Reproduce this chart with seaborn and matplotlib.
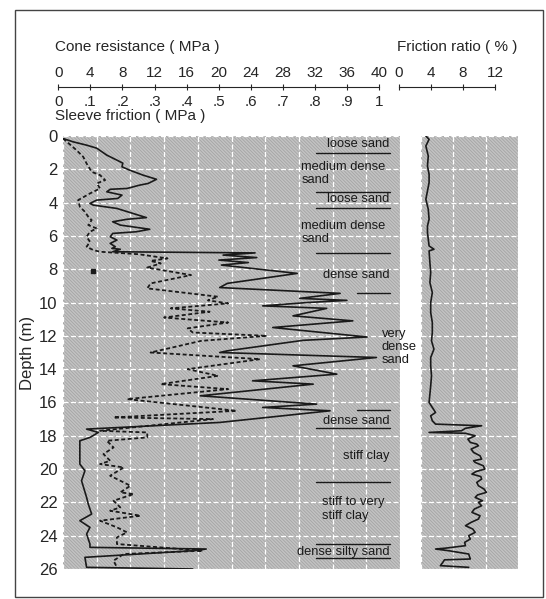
import numpy as np
import pandas as pd
import seaborn as sns
import matplotlib.pyplot as plt
from matplotlib.patches import Rectangle

# cone resistance (MPa) vs depth (m)
qc_depth = [0.15, 0.35, 0.55, 0.73, 1.15, 1.45, 1.63, 1.85, 2.05, 2.35, 2.6, 2.85, 2.95, 3.15, 3.2,
            3.35, 3.55, 3.75, 3.85, 4.05, 4.15, 4.35, 4.65, 4.9, 5.0, 5.15, 5.35, 5.6, 5.75, 5.85,
            6.05, 6.25, 6.45, 6.65, 6.75, 6.8, 6.95, 7.02, 7.15, 7.3, 7.45, 7.6, 7.75, 8.25, 8.85,
            9.1, 9.45, 9.75, 9.87, 10.0, 10.2, 10.35, 10.8, 11.1, 11.5, 12.07, 12.27, 12.9, 13.0,
            13.3, 13.8, 14.3, 14.7, 14.9, 15.6, 16.1, 16.3, 16.5, 17.2, 17.6, 17.8, 18.1, 18.3,
            19.7, 20.1, 20.7, 21.7, 22.1, 22.7, 23.1, 23.5, 23.9, 24.5, 24.7, 24.8, 24.9, 25.3,
            25.9, 26.0]
qc = [0.0, 1.2, 2.8, 4.0, 5.2, 6.4, 7.1, 7.0, 7.9, 9.5, 11.1, 10.1, 9.1, 7.6, 5.6,
      5.2, 7.0, 6.5, 4.0, 3.2, 3.6, 6.4, 8.3, 9.9, 7.6, 5.9, 6.8, 10.3, 8.7, 5.9,
      5.6, 6.4, 5.6, 6.2, 5.8, 6.8, 5.9, 22.8, 19.0, 23.0, 18.5, 22.0, 18.8, 27.8, 19.5,
      18.6, 32.9, 28.1, 33.7, 29.0, 23.7, 31.3, 27.3, 34.4, 24.9, 36.1, 28.5, 19.5, 18.6,
      37.2, 27.3, 32.5, 22.5, 29.7, 16.3, 30.1, 23.7, 31.7, 18.6, 2.8, 4.2, 3.2, 2.0,
      2.0, 2.6, 2.2, 2.8, 3.0, 3.4, 2.0, 3.2, 2.8, 3.2, 3.2, 17.0, 15.5, 2.6,
      2.8, 15.4]

# sleeve friction (MPa) vs depth (m)
fs_depth = [0.15, 0.85, 1.25, 1.65, 2.15, 2.35, 2.65, 2.85, 3.15, 3.45, 3.85, 4.25, 4.55, 4.85,
            5.05, 5.35, 5.55, 5.75, 6.05, 6.35, 6.65, 6.85, 6.95, 7.1, 7.35, 7.5, 7.65, 7.9,
            8.35, 8.85, 9.15, 9.65, 9.87, 10.05, 10.35, 10.55, 10.9, 11.2, 11.55, 11.8, 12.0,
            12.3, 13.0, 13.4, 14.0, 14.4, 14.9, 15.2, 15.8, 16.5, 16.9, 17.0, 17.7, 17.8, 18.1,
            18.3, 18.7, 19.1, 19.5, 19.7, 19.9, 20.4, 21.0, 21.4, 21.5, 21.9, 22.3, 22.5, 22.8,
            23.1, 23.5, 23.8, 24.1, 24.5, 24.9, 25.1, 25.5, 25.9]
fs = [0.0, 0.04, 0.06, 0.07, 0.085, 0.11, 0.125, 0.10, 0.11, 0.08, 0.045, 0.05, 0.065, 0.075,
      0.085, 0.075, 0.10, 0.08, 0.07, 0.08, 0.07, 0.09, 0.11, 0.225, 0.31, 0.26, 0.29, 0.25,
      0.38, 0.26, 0.25, 0.46, 0.43, 0.49, 0.32, 0.435, 0.30, 0.49, 0.37, 0.385, 0.605,
      0.41, 0.26, 0.585, 0.37, 0.46, 0.29, 0.49, 0.19, 0.515, 0.15, 0.445, 0.11, 0.25, 0.25,
      0.13, 0.15, 0.12, 0.14, 0.11, 0.18, 0.14, 0.20, 0.17, 0.21, 0.15, 0.17, 0.14, 0.23,
      0.11, 0.16, 0.19, 0.16, 0.16, 0.415, 0.18, 0.15, 0.16]
stray_depth = [8.1]
stray_fs = [0.09]

# friction ratio (%) vs depth (m)
rf_depth = [0.0, 0.2, 0.6, 1.2, 1.8, 2.3, 2.8, 3.3, 3.8, 4.4, 5.0, 5.4, 5.8, 6.6, 6.8, 6.9,
            7.6, 8.2, 8.8, 9.4, 10.0, 10.6, 11.2, 11.8, 12.3, 12.8, 13.3, 13.8, 14.4, 15.0,
            15.5, 16.0, 16.6, 16.8, 17.1, 17.3, 17.4, 17.55, 17.7, 17.8, 17.85, 18.0, 18.2,
            18.4, 18.5, 18.6, 18.8, 19.0, 19.2, 19.4, 19.5, 19.6, 19.8, 20.0, 20.15, 20.3,
            20.45, 20.6, 20.8, 21.0, 21.2, 21.4, 21.55, 21.7, 21.9, 22.0, 22.2, 22.4, 22.6,
            22.8, 23.0, 23.2, 23.4, 23.6, 23.8, 24.0, 24.2, 24.4, 24.6, 24.75, 24.8, 24.9,
            25.1, 25.4, 25.45, 25.6, 25.8, 25.9]
rf = [0.6, 1.0, 0.6, 0.9, 0.8, 1.0, 1.0, 0.8, 0.6, 0.9, 1.0, 0.8, 0.8, 1.0, 1.6, 1.0,
      1.1, 1.2, 1.1, 1.4, 1.2, 1.2, 1.4, 1.4, 1.3, 1.6, 1.2, 1.2, 1.3, 1.2,
      1.1, 1.0, 1.8, 1.2, 1.4, 1.8, 7.5, 5.5, 5.0, 1.0, 5.5, 6.7, 5.8,
      6.1, 6.9, 7.1, 6.2, 6.5, 7.3, 7.5, 6.5, 6.7, 7.7, 7.9, 6.8, 6.3,
      7.4, 7.5, 6.9, 7.1, 7.8, 8.1, 7.0, 6.7, 7.6, 7.1, 7.5, 6.6, 6.3,
      7.3, 7.1, 6.2, 5.5, 6.4, 6.7, 5.9, 6.1, 5.4, 5.5, 3.0, 1.8, 3.4,
      5.9, 6.1, 2.9, 2.7, 2.4, 5.9]

# soil layers
layer_bounds = [1.0, 3.35, 4.33, 7.02, 9.45, 16.45, 17.55, 20.75, 24.47, 25.33]
short_bounds = [9.45, 16.45]
layer_names = ["loose sand", "medium dense\nsand", "loose sand", "medium dense\nsand",
               "dense sand", "very\ndense\nsand", "dense sand", "stiff clay",
               "stiff to very\nstiff clay", "dense silty sand"]
layer_label_depth = [0.48, 2.25, 3.8, 5.8, 8.36, 12.65, 17.1, 19.2, 22.4, 24.97]

sns.set_style("white")
plt.rcParams['font.family'] = ['Liberation Sans', 'DejaVu Sans']
plt.rcParams['hatch.linewidth'] = 0.6

W, H = 546, 599
fig = plt.figure(figsize=(W / 100, H / 100), dpi=100)


def box(x0, y0, x1, y1):
    return [x0 / W, 1 - y1 / H, (x1 - x0) / W, (y1 - y0) / H]


ax = fig.add_axes(box(63, 136, 400, 569))
ax2 = fig.add_axes(box(421, 136, 518, 569))

for a, xmax in [(ax, 40), (ax2, 12)]:
    a.set_facecolor('#c3c3c3')
    a.add_patch(Rectangle((0, 0), 1, 1, transform=a.transAxes, facecolor='none',
                          edgecolor='#a4a4a4', hatch='\\' * 10, lw=0, zorder=0))
    a.set_xlim(0, xmax)
    a.set_ylim(26, 0)
    a.set_xticks(np.arange(0, xmax + 1, 4))
    a.set_yticks(np.arange(0, 27, 2))
    a.grid(True, color='white', ls=(0, (4, 2)), lw=0.9)
    a.set_axisbelow(True)
    for s in a.spines.values():
        s.set_visible(False)
    a.tick_params(length=0, labelbottom=False)

qc_df = pd.DataFrame({'depth': qc_depth, 'qc': qc})
fs_df = pd.DataFrame({'depth': fs_depth, 'fs_scaled': np.array(fs) * 40})
rf_df = pd.DataFrame({'depth': rf_depth, 'rf': rf})

sns.lineplot(data=qc_df, x='qc', y='depth', sort=False, estimator=None, orient='y',
             color='#1a1a1a', lw=1.2, ax=ax)
sns.lineplot(data=fs_df, x='fs_scaled', y='depth', sort=False, estimator=None, orient='y',
             color='#1a1a1a', lw=1.3, ls=(0, (2.2, 1.4)), ax=ax)
ax.plot(np.array(stray_fs) * 40, stray_depth, 's', color='#1a1a1a', ms=2.5)
sns.lineplot(data=rf_df, x='rf', y='depth', sort=False, estimator=None, orient='y',
             color='#1a1a1a', lw=1.2, ax=ax2)

ax.set_xlabel('')
ax2.set_xlabel('')
ax2.set_ylabel('')
ax2.tick_params(labelleft=False)
ax.tick_params(axis='y', labelsize=12, pad=4)
ax.set_ylabel('Depth (m)', fontsize=12, labelpad=3)

# layer boundaries and names
for b in layer_bounds:
    x0 = 34.9 if b in short_bounds else 30.0
    ax.plot([x0, 38.8], [b, b], color='#1a1a1a', lw=1.0)
lab_fs = 9.3
for name, d in zip(layer_names, layer_label_depth):
    if name.startswith('medium') or name.startswith('stiff to'):
        ax.text(28.3 if name.startswith('medium') else 30.7, d, name, ha='left', va='center',
                fontsize=lab_fs, linespacing=1.15, color='#1a1a1a')
    elif name.startswith('very'):
        ax.text(37.8, d, name, ha='left', va='center', fontsize=lab_fs, linespacing=1.1,
                color='#1a1a1a', clip_on=False)
    else:
        ax.text(38.7, d, name, ha='right', va='center', fontsize=lab_fs, color='#1a1a1a')

# top rulers
r1 = fig.add_axes(box(58.3, 86, 379, 87))
r1.set_xlim(0, 40)
r1.set_xticks(np.arange(0, 41, 4))
r1.tick_params(axis='x', direction='inout', length=4, width=0.8, top=False, bottom=True,
               labeltop=True, labelbottom=False, labelsize=11, pad=2)
r1.set_yticks([])
sec = r1.secondary_xaxis('bottom', functions=(lambda v: v / 40, lambda v: v * 40))
sec.set_xticks(np.round(np.arange(0, 1.01, 0.1), 1))
sec.set_xticklabels(['0', '.1', '.2', '.3', '.4', '.5', '.6', '.7', '.8', '.9', '1'])
sec.tick_params(length=0, labelsize=11, pad=6)
sec.spines['bottom'].set_visible(False)

r2 = fig.add_axes(box(399, 86, 495, 87))
r2.set_xlim(0, 12)
r2.set_xticks([0, 4, 8, 12])
r2.tick_params(axis='x', direction='inout', length=4, width=0.8, top=False, bottom=True,
               labeltop=True, labelbottom=False, labelsize=11, pad=2)
r2.set_yticks([])
for r in (r1, r2):
    r.set_facecolor('none')
    for side in ('top', 'left', 'right'):
        r.spines[side].set_visible(False)
    r.spines['bottom'].set_linewidth(0.8)

fig.text(55 / W, 1 - 47 / H, 'Cone resistance ( MPa )', ha='left', va='center', fontsize=11)
fig.text(55 / W, 1 - 116 / H, 'Sleeve friction ( MPa )', ha='left', va='center', fontsize=11)
fig.text(397 / W, 1 - 47 / H, 'Friction ratio ( % )', ha='left', va='center', fontsize=11)

fig.add_artist(Rectangle((15 / W, 1 - 597 / H), 528 / W, 587 / H, transform=fig.transFigure,
                         fill=False, lw=1.0, ec='#444444'))

fig.savefig('out.png', dpi=100)
